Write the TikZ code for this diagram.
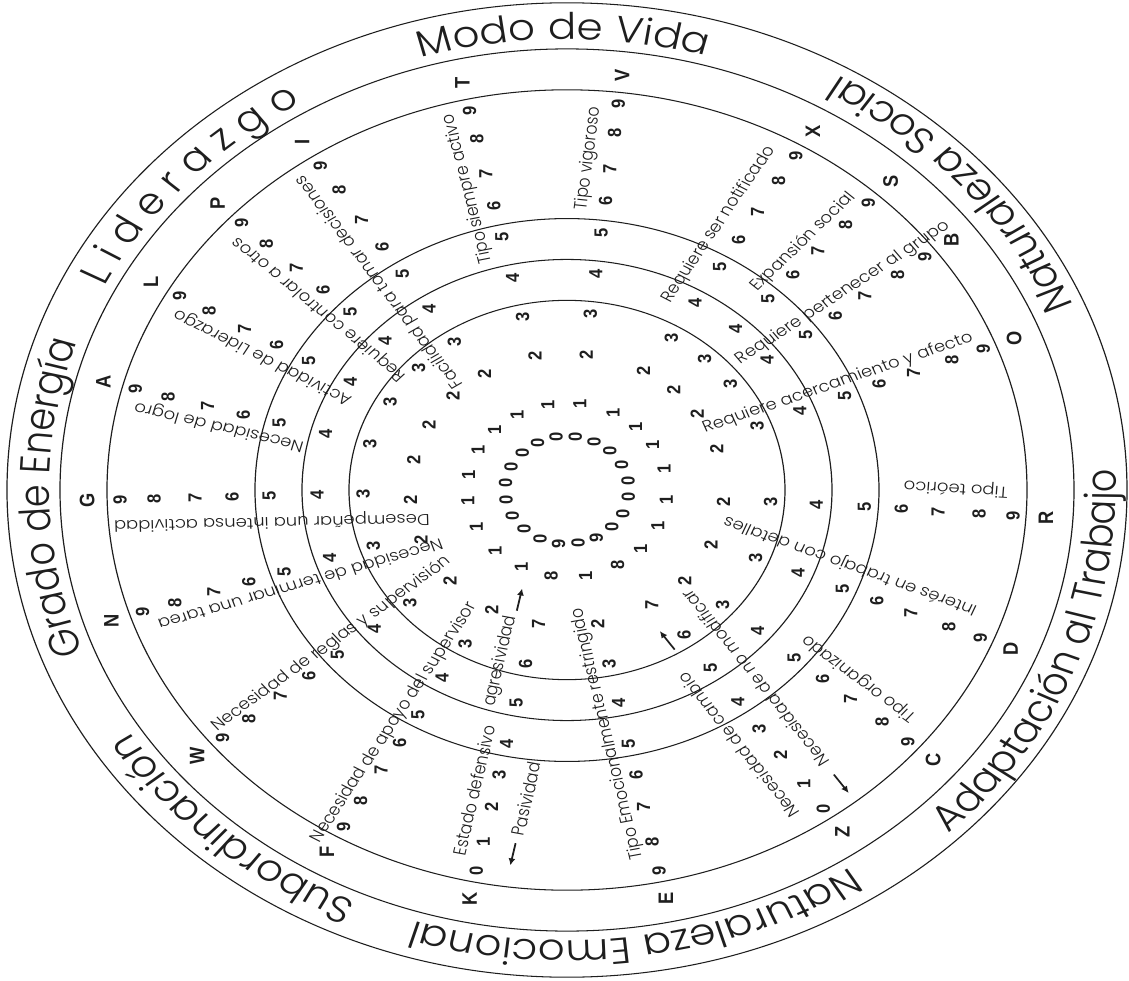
\documentclass[tikz,border=0pt]{standalone}
\usepackage{fontspec}
\usepackage{tikz}
\usetikzlibrary{arrows.meta,decorations.text}
\newfontfamily\popfont{Poppins Light}
\newfontfamily\arialfont{Liberation Sans}
\definecolor{InkBlack}{HTML}{1E1E1E}
\newcommand{\digitfont}{\arialfont\bfseries\fontsize{9.5}{10}\selectfont}
\newcommand{\letrafont}{\arialfont\bfseries\fontsize{10.5}{11}\selectfont}
\newcommand{\descfont}{\popfont\fontsize{9}{10}\selectfont}
\newcommand{\bandfont}{\popfont\fontsize{21}{23}\selectfont}

\begin{document}
\begin{tikzpicture}[x=0.5pt,y=0.5pt,>=Latex,
  anillo/.style={draw=InkBlack,line width=0.6pt},
  digito/.style={font=\digitfont,text=InkBlack,rotate=90,inner sep=0pt},
  letra/.style={font=\letrafont,text=InkBlack,rotate=90,inner sep=0pt},
  desc/.style={font=\descfont,text=InkBlack,inner sep=0pt},
  flecha/.style={-{Latex[length=4pt,width=3.5pt]},line width=0.9pt,draw=InkBlack},
  banda/.style={decorate,decoration={text along path,text align=center,text color=InkBlack,text={#1}}}]
\useasboundingbox (-567,-490) rectangle (562,490);
\begin{scope}[transform canvas={yscale=0.87}]
% anillos
\foreach \r in {560,507,460,312,265,218}
  \draw[anillo] (0,0) circle[radius=\r];
% titulos de la banda exterior
\path[banda={|\bandfont|Modo de Vida}] (130.4:518) arc[start angle=130.4,end angle=50.4,radius=518];
\path[banda={|\bandfont|L i d e r a z g o}] (177:518) arc[start angle=177,end angle=97,radius=518];
\path[banda={|\bandfont|Grado de Energía}] (221:518) arc[start angle=221,end angle=141,radius=518];
\path[banda={|\bandfont|Subordinación}] (-90.7:518) arc[start angle=-90.7,end angle=-170.7,radius=518];
\path[banda={|\bandfont|Naturaleza Emocional}] (-42:518) arc[start angle=-42,end angle=-122,radius=518];
\path[banda={|\bandfont|Adaptación al Trabajo}] (-61.7:549) arc[start angle=-61.7,end angle=18.3,radius=549];
\path[banda={|\bandfont|Naturaleza Social}] (1.5:549) arc[start angle=1.5,end angle=81.5,radius=549];
% letras y escalas
\foreach \lbl/\ang/\rev [count=\idx from 0] in {T/102.6/0,V/83.4/0,X/59.2/0,S/47.6/0,B/36.8/0,O/21.3/0,R/-3.8/0,D/-22.4/0,C/-40.3/0,Z/-55/1,E/-78.1/0,K/-101.7/1,F/-120/0,W/-140.4/0,N/-161.7/0,G/-178.6/0,A/-195/0,L/-209.9/0,P/-223.3/0,I/-236.5/0}{
  \pgfmathsetmacro{\uang}{100.2-18*\idx}
  \node[letra] (l-\lbl) at (\ang:480) {\lbl};
  \foreach \p/\rr in {0/62,1/100,2/157,3/204,4/250,5/298,6/335,7/372,8/413,9/447}{
    \pgfmathsetmacro{\dang}{\uang+(\ang-\uang)*min(1,\p/3)}
    \pgfmathtruncatemacro{\dval}{\p+\rev*(9-2*\p)}
    \node[digito] (d-\lbl-\dval) at (\dang:\rr) {\dval};
  }
}
% textos de cada escala
\path (102.6:359) ++(192.6:21) node[desc,rotate=102.6] (t-T) {Tipo siempre activo};
\path (83.4:381) ++(173.4:22) node[desc,rotate=83.4] (t-V) {Tipo vigoroso};
\path (59.2:340) ++(149.2:26) node[desc,rotate=59.2] (t-X) {Requiere ser notificado};
\path (47.6:370) ++(137.6:18) node[desc,rotate=47.6] (t-S) {Expansión social};
\path (36.8:357) ++(126.8:16) node[desc,rotate=36.8] (t-B) {Requiere pertenecer al grupo};
\path (21.3:297) ++(111.3:16) node[desc,rotate=21.3] (t-O) {Requiere acercamiento y afecto};
\path (-3.8:388) ++(86.2:28) node[desc,rotate=176.2] (t-R) {Tipo teórico};
\path (-22.4:295) ++(67.6:28) node[desc,rotate=157.6] (t-D) {Interés en trabajo con detalles};
\path (-40.3:363) ++(49.7:24) node[desc,rotate=139.7] (t-C) {Tipo organizado};
\path (-55:339) ++(-145:28) node[desc,rotate=125] (t-Z1) {Necesidad de cambio};
\path (-55:285) ++(35:30) node[desc,rotate=125] (t-Z2) {Necesidad de no modificar};
\path (-78.1:283) ++(-168.1:18) node[desc,rotate=101.9] (t-E) {Tipo Emocionalmente restringido};
\path (-101.7:357) ++(168.3:21) node[desc,rotate=78.3] (t-K1) {Estado defensivo};
\path (-101.7:356) ++(-11.7:32) node[desc,rotate=78.3] (t-K2) {Pasividad};
\path (-101.7:206) ++(168.3:25) node[desc,rotate=78.3] (t-K3) {agresividad};
\path (-120:318) ++(150:16) node[desc,rotate=60] (t-F) {Necesidad de apoyo del supervisor};
\path (-140.4:294) ++(129.6:14) node[desc,rotate=39.6] (t-W) {Necesidad de reglas y supervisión};
\path (-161.7:287) ++(-71.7:20) node[desc,rotate=198.3] (t-N) {Necesidad de terminar una tarea};
\path (181.4:296) ++(271.4:29) node[desc,rotate=181.4] (t-G) {Desempeñar una intensa actividad};
\path (165:355) ++(255:19) node[desc,rotate=165] (t-A) {Necesidad de logro};
\path (150.1:340) ++(240.1:19) node[desc,rotate=150.1] (t-L) {Actividad de Liderazgo};
\path (136.7:323) ++(226.7:18) node[desc,rotate=136.7] (t-P) {Requiere controlar a otros};
\path (123.5:303) ++(213.5:24) node[desc,rotate=123.5] (t-I) {Facilidad para tomar decisiones};
% flechas de Z y K
\path (-55:421) ++(35:31) coordinate (za1);
\path (-55:447) ++(35:31) coordinate (za2);
\path (-55:212) ++(-145:17) coordinate (zb1);
\path (-55:186) ++(-145:17) coordinate (zb2);
\path (-101.7:408) ++(-11.7:32) coordinate (ka1);
\path (-101.7:434) ++(-11.7:32) coordinate (ka2);
\path (-101.7:146) ++(168.3:21) coordinate (kb1);
\path (-101.7:120) ++(168.3:21) coordinate (kb2);
\draw[flecha] (za1) -- (za2);
\draw[flecha] (zb1) -- (zb2);
\draw[flecha] (ka1) -- (ka2);
\draw[flecha] (kb1) -- (kb2);
\end{scope}
\end{tikzpicture}
\end{document}
